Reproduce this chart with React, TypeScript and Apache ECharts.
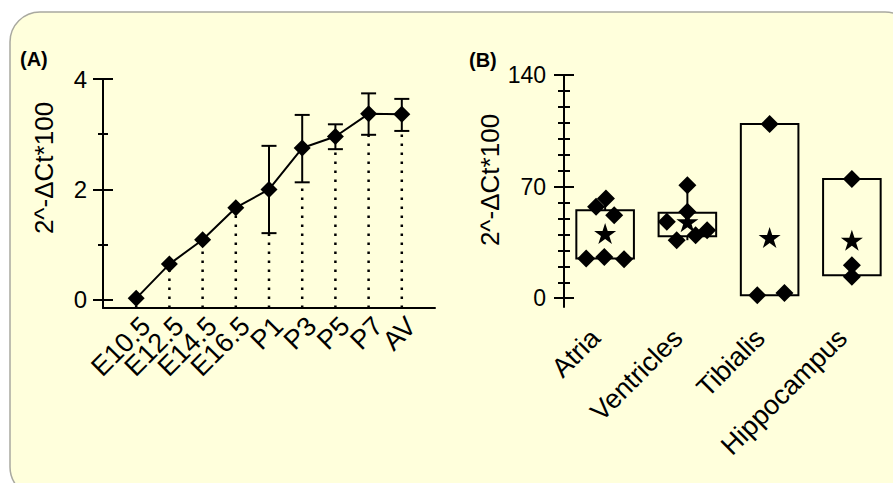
import React, { useEffect, useRef } from "react";
import * as echarts from "echarts";

// ---------- Panel A data ----------
const stages = ["E10.5", "E12.5", "E14.5", "E16.5", "P1", "P3", "P5", "P7", "AV"];
const stageMeans = [0.03, 0.65, 1.09, 1.67, 2.0, 2.75, 2.96, 3.37, 3.36];
const stageErrLow: (number | null)[] = [null, null, null, null, 1.21, 2.13, 2.73, 2.99, 3.06];
const stageErrHigh: (number | null)[] = [null, null, null, null, 2.79, 3.35, 3.18, 3.74, 3.64];
const yMajorA = [0, 2, 4];
const yMinorA = [1, 3];

// ---------- Panel B data ----------
const tissues = ["Atria", "Ventricles", "Tibialis", "Hippocampus"];
const atriaValues = [57.3, 62.6, 52.1, 24.9, 25.9, 24.5];
const ventriclesValues = [70.9, 54.2, 47.9, 36.4, 39.5, 42.7];
const tibialisValues = [109.2, 1.9, 3.3];
const hippocampusValues = [74.7, 20.7, 13.4];
const atriaJitter = [-0.11, 0.01, 0.11, -0.23, -0.01, 0.23];
const ventriclesJitter = [0, 0, -0.25, -0.13, 0.1, 0.24];
const tibialisJitter = [0, -0.15, 0.18];
const hippocampusJitter = [0, 0, 0];
const tissueMeans = [40.6, 48.0, 38.1, 36.4];
const boxLow = [24.9, 38.9, 1.9, 14.4];
const boxHigh = [55.2, 53.6, 109.2, 74.7];
const yMajorB = [0, 70, 140];
const yMinorB = [10, 20, 30, 40, 50, 60, 80, 90, 100, 110, 120, 130];

const FONT = "Liberation Sans, Arial, sans-serif";
const STAR = "path://M50,0 L61.2,34.5 L97.6,34.5 L68.2,55.9 L79.4,90.5 L50,69.1 L20.6,90.5 L31.8,55.9 L2.4,34.5 L38.8,34.5 Z";

export default function App() {
  const ref = useRef<HTMLDivElement>(null);

  useEffect(() => {
    if (!ref.current) return;
    const chart = echarts.init(ref.current, null, { renderer: "svg" });

    const tissueValues = [atriaValues, ventriclesValues, tibialisValues, hippocampusValues];
    const tissueJitter = [atriaJitter, ventriclesJitter, tibialisJitter, hippocampusJitter];

    const yAMin = -0.145;
    const yBMin = -5.5;

    const tickAxis = (
      grid: number,
      min: number,
      max: number,
      values: number[],
      len: number,
      inside: boolean,
      showLine: boolean,
      labels: number[] | null,
      labelSize: number,
      labelMargin: number
    ) => ({
      type: "value",
      gridIndex: grid,
      position: "left",
      min,
      max,
      axisLine: { show: showLine, onZero: false, lineStyle: { color: "#000", width: 2 } },
      axisTick: {
        show: true,
        inside,
        length: len,
        customValues: values,
        lineStyle: { color: "#000", width: 2 },
      },
      axisLabel: labels
        ? {
            show: true,
            customValues: labels,
            color: "#000",
            fontSize: labelSize,
            fontFamily: FONT,
            margin: labelMargin,
          }
        : { show: false },
      splitLine: { show: false },
    });

    const pointsB: number[][] = [];
    tissueValues.forEach((vals, i) => {
      vals.forEach((v, j) => pointsB.push([i + tissueJitter[i][j], v]));
    });

    const option: any = {
      animation: false,
      backgroundColor: "#ffffff",
      graphic: [
        {
          type: "rect",
          z: -10,
          shape: { x: 10, y: 12, width: 905, height: 485, r: 30 },
          style: { fill: "#FFFFDC", stroke: "#A9A9A0", lineWidth: 1.5 },
        },
        {
          type: "text",
          x: 20,
          y: 59,
          style: { text: "(A)", font: `bold 20px ${FONT}`, fill: "#000", verticalAlign: "middle" },
        },
        {
          type: "text",
          x: 469,
          y: 60,
          style: { text: "(B)", font: `bold 20px ${FONT}`, fill: "#000", verticalAlign: "middle" },
        },
        {
          type: "text",
          x: 44,
          y: 168,
          rotation: Math.PI / 2,
          style: {
            text: "2^-ΔCt*100",
            font: `26px ${FONT}`,
            fill: "#000",
            align: "center",
            verticalAlign: "middle",
          },
        },
        {
          type: "text",
          x: 490,
          y: 180,
          rotation: Math.PI / 2,
          style: {
            text: "2^-ΔCt*100",
            font: `26px ${FONT}`,
            fill: "#000",
            align: "center",
            verticalAlign: "middle",
          },
        },
      ],
      grid: [
        { left: 103, top: 79, width: 332, height: 229 },
        { left: 564, top: 75, width: 331, height: 232 },
      ],
      xAxis: [
        {
          type: "value",
          gridIndex: 0,
          min: 0,
          max: 10,
          interval: 1,
          axisLine: { show: true, onZero: false, lineStyle: { color: "#000", width: 2 } },
          axisTick: { show: false },
          splitLine: { show: false },
          axisLabel: {
            color: "#000",
            fontSize: 27,
            fontFamily: FONT,
            rotate: 45,
            margin: 4,
            align: "right",
            verticalAlign: "top",
            formatter: (v: number) => stages[v - 1] ?? "",
          },
        },
        {
          type: "category",
          gridIndex: 1,
          data: tissues,
          boundaryGap: true,
          axisLine: { show: false, onZero: false },
          axisTick: { show: false },
          axisLabel: {
            color: "#000",
            fontSize: 27,
            fontFamily: FONT,
            rotate: 45,
            margin: 36,
            align: "right",
            verticalAlign: "bottom",
            interval: 0,
          },
        },
        {
          type: "value",
          gridIndex: 1,
          min: -0.5,
          max: 3.5,
          show: false,
          axisLine: { onZero: false },
        },
      ],
      yAxis: [
        tickAxis(0, yAMin, 4, yMajorA, 10, false, true, yMajorA, 24, 16),
        tickAxis(0, yAMin, 4, yMajorA, 10, true, false, null, 0, 0),
        tickAxis(0, yAMin, 4, yMinorA, 5, false, false, null, 0, 0),
        tickAxis(0, yAMin, 4, yMinorA, 5, true, false, null, 0, 0),
        tickAxis(1, yBMin, 140, yMajorB, 10, false, true, yMajorB, 23, 18),
        tickAxis(1, yBMin, 140, yMajorB, 10, true, false, null, 0, 0),
        tickAxis(1, yBMin, 140, yMinorB, 6, false, false, null, 0, 0),
        tickAxis(1, yBMin, 140, yMinorB, 6, true, false, null, 0, 0),
      ],
      series: [
        // Panel A: dotted drop lines
        {
          type: "custom",
          xAxisIndex: 0,
          yAxisIndex: 0,
          z: 1,
          data: stages.map((s, i) => [i + 1, stageErrLow[i] ?? stageMeans[i]]),
          renderItem: (params: any, api: any) => {
            const p = api.coord([api.value(0), api.value(1)]);
            const cs = params.coordSys;
            return {
              type: "line",
              shape: { x1: p[0], y1: cs.y + cs.height, x2: p[0], y2: p[1] },
              style: { stroke: "#000", lineWidth: 2.5, lineDash: [2.5, 6.5] },
            };
          },
        },
        // Panel A: error bars
        {
          type: "custom",
          xAxisIndex: 0,
          yAxisIndex: 0,
          z: 3,
          data: stages
            .map((s, i) => [i + 1, stageErrLow[i], stageErrHigh[i]])
            .filter((d) => d[1] != null),
          renderItem: (params: any, api: any) => {
            const x = api.value(0);
            const lo = api.coord([x, api.value(1)]);
            const hi = api.coord([x, api.value(2)]);
            const hw = 7.5;
            const st = { stroke: "#000", lineWidth: 2 };
            return {
              type: "group",
              children: [
                { type: "line", shape: { x1: lo[0], y1: lo[1], x2: hi[0], y2: hi[1] }, style: st },
                { type: "line", shape: { x1: lo[0] - hw, y1: lo[1], x2: lo[0] + hw, y2: lo[1] }, style: st },
                { type: "line", shape: { x1: hi[0] - hw, y1: hi[1], x2: hi[0] + hw, y2: hi[1] }, style: st },
              ],
            };
          },
        },
        // Panel A: means line
        {
          type: "line",
          xAxisIndex: 0,
          yAxisIndex: 0,
          z: 4,
          data: stages.map((s, i) => [i + 1, stageMeans[i]]),
          symbol: "diamond",
          symbolSize: 17,
          lineStyle: { color: "#000", width: 2 },
          itemStyle: { color: "#000", opacity: 1 },
        },
        // Panel B: boxes + whiskers
        {
          type: "custom",
          xAxisIndex: 2,
          yAxisIndex: 4,
          z: 2,
          data: tissues.map((t, i) => [
            i,
            boxLow[i],
            boxHigh[i],
            Math.min(...tissueValues[i]),
            Math.max(...tissueValues[i]),
          ]),
          renderItem: (params: any, api: any) => {
            const i = api.value(0);
            const tl = api.coord([i - 0.35, api.value(2)]);
            const br = api.coord([i + 0.35, api.value(1)]);
            const c = api.coord([i, api.value(2)]);
            const mx = api.coord([i, api.value(4)]);
            const lo = api.coord([i, api.value(1)]);
            const mn = api.coord([i, api.value(3)]);
            const st = { stroke: "#000", lineWidth: 2, fill: null };
            return {
              type: "group",
              children: [
                {
                  type: "rect",
                  shape: { x: tl[0], y: tl[1], width: br[0] - tl[0], height: br[1] - tl[1] },
                  style: { stroke: "#000", lineWidth: 2, fill: "none" },
                },
                { type: "line", shape: { x1: c[0], y1: c[1], x2: mx[0], y2: mx[1] }, style: st },
                { type: "line", shape: { x1: lo[0], y1: lo[1], x2: mn[0], y2: mn[1] }, style: st },
              ],
            };
          },
        },
        // Panel B: means (stars)
        {
          type: "scatter",
          xAxisIndex: 2,
          yAxisIndex: 4,
          z: 3,
          data: tissues.map((t, i) => [i, tissueMeans[i]]),
          symbol: STAR,
          symbolSize: [22, 21],
          itemStyle: { color: "#000", opacity: 1 },
        },
        // Panel B: individual points
        {
          type: "scatter",
          xAxisIndex: 2,
          yAxisIndex: 4,
          z: 4,
          data: pointsB,
          symbol: "diamond",
          symbolSize: 18,
          itemStyle: { color: "#000", opacity: 1 },
        },
      ],
    };

    chart.setOption(option);
    return () => chart.dispose();
  }, []);

  return (
    <div
      ref={ref}
      style={{ position: "fixed", left: 0, top: 0, width: 893, height: 483 }}
    />
  );
}
